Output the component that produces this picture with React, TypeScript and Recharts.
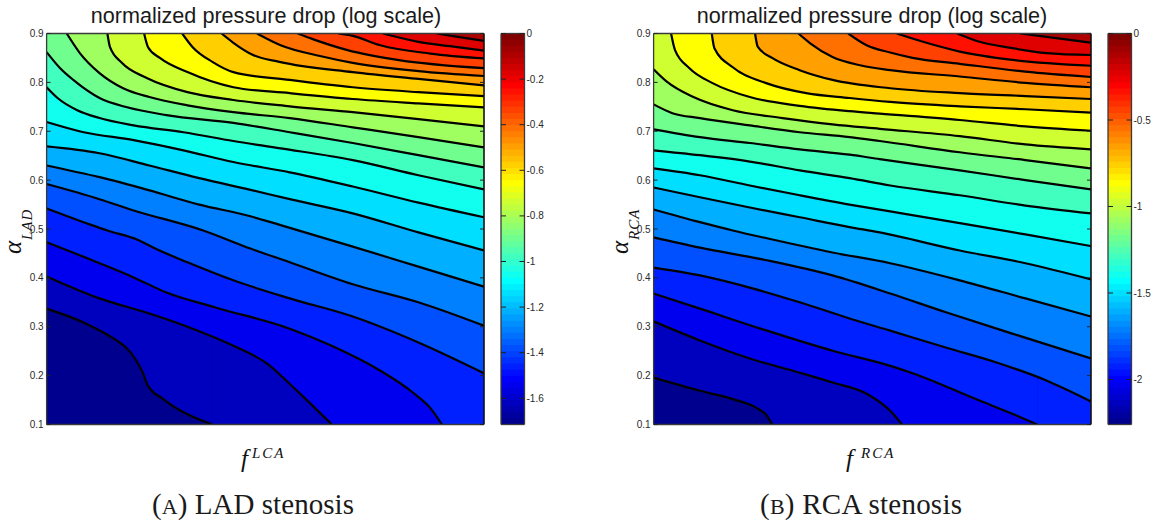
import React from 'react';
import { ComposedChart, Area, Line, XAxis, YAxis } from 'recharts';

type Pt = [number, number];

const fMin = 2 / 3;
const fMax = 1;
const alphaMin = 0.1;
const alphaMax = 0.9;
const fTicks = [0.7, 0.75, 0.8, 0.85, 0.9, 0.95, 1];
const alphaTicks = [0.1, 0.2, 0.3, 0.4, 0.5, 0.6, 0.7, 0.8, 0.9];

// Contour lines of panel A, lowest pressure first: [f, alpha]
const ladContours: Pt[][] = [
  [[fMin, 0.337], [0.697, 0.306], [0.72, 0.272], [0.727, 0.258], [0.735, 0.231], [0.74, 0.206], [0.744, 0.179], [0.755, 0.153], [0.793, 0.1]],
  [[fMin, 0.403], [0.707, 0.358], [0.745, 0.327], [0.776, 0.298], [0.809, 0.261], [0.835, 0.224], [0.852, 0.183], [0.863, 0.155], [0.884, 0.1]],
  [[fMin, 0.473], [0.707, 0.43], [0.733, 0.401], [0.758, 0.37], [0.796, 0.339], [0.852, 0.296], [0.883, 0.262], [0.921, 0.21], [0.946, 0.165], [0.959, 0.134], [0.968, 0.1]],
  [[fMin, 0.542], [0.7, 0.509], [0.713, 0.497], [0.736, 0.478], [0.751, 0.458], [0.774, 0.432], [0.809, 0.395], [0.852, 0.358], [0.9, 0.321], [0.95, 0.268], [1, 0.205]],
  [[fMin, 0.592], [0.707, 0.561], [0.733, 0.538], [0.786, 0.497], [0.822, 0.46], [0.852, 0.432], [0.9, 0.387], [0.95, 0.35], [1, 0.302]],
  [[fMin, 0.63], [0.707, 0.606], [0.745, 0.579], [0.783, 0.55], [0.822, 0.526], [0.845, 0.508], [0.9, 0.464], [0.95, 0.423], [1, 0.382]],
  [[fMin, 0.669], [0.707, 0.655], [0.745, 0.63], [0.783, 0.604], [0.822, 0.58], [0.852, 0.561], [0.9, 0.532], [0.95, 0.493], [1, 0.456]],
  [[fMin, 0.719], [0.695, 0.698], [0.733, 0.682], [0.771, 0.661], [0.809, 0.637], [0.852, 0.616], [0.9, 0.587], [0.95, 0.554], [1, 0.524]],
  [[fMin, 0.79], [0.675, 0.768], [0.69, 0.743], [0.707, 0.727], [0.733, 0.712], [0.771, 0.698], [0.809, 0.68], [0.845, 0.665], [0.9, 0.641], [0.95, 0.61], [1, 0.581]],
  [[fMin, 0.862], [0.677, 0.829], [0.687, 0.805], [0.707, 0.768], [0.728, 0.749], [0.758, 0.733], [0.809, 0.717], [0.852, 0.698], [0.9, 0.676], [0.95, 0.651], [1, 0.626]],
  [[0.682, 0.9], [0.692, 0.86], [0.707, 0.819], [0.725, 0.788], [0.745, 0.77], [0.774, 0.753], [0.809, 0.739], [0.852, 0.727], [0.9, 0.708], [0.95, 0.688], [1, 0.667]],
  [[0.713, 0.9], [0.715, 0.872], [0.724, 0.84], [0.743, 0.809], [0.774, 0.78], [0.809, 0.764], [0.852, 0.751], [0.9, 0.739], [0.95, 0.725], [1, 0.71]],
  [[0.741, 0.9], [0.744, 0.872], [0.753, 0.85], [0.774, 0.821], [0.809, 0.79], [0.852, 0.778], [0.9, 0.766], [0.95, 0.757], [1, 0.749]],
  [[0.77, 0.9], [0.778, 0.872], [0.793, 0.842], [0.809, 0.821], [0.852, 0.805], [0.9, 0.79], [0.95, 0.78], [1, 0.772]],
  [[0.8, 0.9], [0.809, 0.881], [0.824, 0.856], [0.844, 0.842], [0.9, 0.821], [0.95, 0.807], [1, 0.794]],
  [[0.827, 0.9], [0.845, 0.876], [0.875, 0.854], [0.9, 0.84], [0.95, 0.823], [1, 0.813]],
  [[0.858, 0.9], [0.87, 0.888], [0.896, 0.866], [0.934, 0.846], [1, 0.829]],
  [[0.889, 0.9], [0.9, 0.895], [0.921, 0.876], [0.959, 0.859], [1, 0.849]],
  [[0.923, 0.9], [0.95, 0.883], [0.974, 0.874], [1, 0.865]],
  [[0.964, 0.9], [0.98, 0.893], [1, 0.885]],
];

// Contour lines of panel B, lowest pressure first: [f, alpha]
const rcaContours: Pt[][] = [
  [[fMin, 0.196], [0.702, 0.169], [0.727, 0.152], [0.745, 0.134], [0.753, 0.118], [0.757, 0.1]],
  [[fMin, 0.311], [0.702, 0.272], [0.74, 0.235], [0.778, 0.206], [0.803, 0.186], [0.829, 0.163], [0.847, 0.128], [0.856, 0.1]],
  [[fMin, 0.368], [0.702, 0.337], [0.753, 0.292], [0.803, 0.251], [0.847, 0.22], [0.864, 0.205], [0.915, 0.149], [0.94, 0.122], [0.959, 0.1]],
  [[fMin, 0.421], [0.702, 0.405], [0.74, 0.38], [0.778, 0.35], [0.816, 0.317], [0.847, 0.292], [0.89, 0.257], [0.928, 0.227], [0.966, 0.19], [1, 0.147]],
  [[fMin, 0.483], [0.702, 0.462], [0.753, 0.436], [0.803, 0.405], [0.847, 0.368], [0.89, 0.329], [0.94, 0.286], [1, 0.235]],
  [[fMin, 0.54], [0.702, 0.514], [0.727, 0.497], [0.753, 0.481], [0.803, 0.452], [0.847, 0.43], [0.9, 0.395], [0.95, 0.358], [1, 0.321]],
  [[fMin, 0.585], [0.702, 0.565], [0.74, 0.544], [0.778, 0.524], [0.816, 0.504], [0.839, 0.493], [0.9, 0.456], [0.95, 0.43], [1, 0.397]],
  [[fMin, 0.624], [0.702, 0.61], [0.74, 0.589], [0.778, 0.569], [0.816, 0.55], [0.847, 0.536], [0.9, 0.512], [0.95, 0.489], [1, 0.465]],
  [[fMin, 0.661], [0.702, 0.651], [0.74, 0.638], [0.778, 0.62], [0.816, 0.604], [0.847, 0.589], [0.9, 0.569], [0.95, 0.548], [1, 0.532]],
  [[fMin, 0.704], [0.702, 0.688], [0.74, 0.676], [0.778, 0.663], [0.816, 0.652], [0.839, 0.643], [0.9, 0.62], [0.95, 0.6], [1, 0.581]],
  [[fMin, 0.755], [0.681, 0.737], [0.702, 0.727], [0.74, 0.712], [0.778, 0.698], [0.816, 0.688], [0.839, 0.68], [0.9, 0.657], [0.95, 0.641], [1, 0.624]],
  [[fMin, 0.827], [0.677, 0.801], [0.697, 0.77], [0.727, 0.743], [0.765, 0.727], [0.803, 0.714], [0.839, 0.705], [0.9, 0.69], [0.95, 0.673], [1, 0.663]],
  [[0.68, 0.9], [0.683, 0.866], [0.694, 0.829], [0.712, 0.798], [0.74, 0.77], [0.778, 0.752], [0.816, 0.741], [0.839, 0.736], [0.9, 0.723], [0.95, 0.71], [1, 0.701]],
  [[0.711, 0.9], [0.713, 0.87], [0.727, 0.831], [0.753, 0.798], [0.783, 0.778], [0.816, 0.768], [0.847, 0.76], [0.9, 0.751], [0.95, 0.745], [1, 0.738]],
  [[0.744, 0.9], [0.746, 0.873], [0.757, 0.85], [0.778, 0.825], [0.803, 0.805], [0.847, 0.788], [0.9, 0.778], [0.95, 0.772], [1, 0.766]],
  [[0.777, 0.9], [0.786, 0.88], [0.803, 0.852], [0.824, 0.835], [0.847, 0.825], [0.9, 0.812], [0.95, 0.799], [1, 0.79]],
  [[0.815, 0.9], [0.829, 0.876], [0.847, 0.861], [0.864, 0.85], [0.9, 0.838], [0.95, 0.822], [1, 0.811]],
  [[0.852, 0.9], [0.872, 0.883], [0.9, 0.863], [0.94, 0.846], [1, 0.834]],
  [[0.898, 0.9], [0.915, 0.883], [0.94, 0.87], [0.966, 0.86], [1, 0.856]],
  [[0.946, 0.9], [0.975, 0.89], [1, 0.881]],
];

// Flat band colours, lowest band first (one more than the contours)
const bandColors = [
  '#00008f', '#0000bf', '#0000ef', '#0020ff', '#0050ff', '#0080ff', '#00afff',
  '#00dfff', '#10ffef', '#40ffbf', '#70ff8f', '#9fff60', '#cfff30', '#ffff00',
  '#ffcf00', '#ff9f00', '#ff7000', '#ff4000', '#ff1000', '#df0000', '#af0000',
];

// Colour bar table, lowest value first
const jet64 = [
  '#00008f', '#00009f', '#0000af', '#0000bf', '#0000cf', '#0000df', '#0000ef', '#0000ff',
  '#0010ff', '#0020ff', '#0030ff', '#0040ff', '#0050ff', '#0060ff', '#0070ff', '#0080ff',
  '#008fff', '#009fff', '#00afff', '#00bfff', '#00cfff', '#00dfff', '#00efff', '#00ffff',
  '#10ffef', '#20ffdf', '#30ffcf', '#40ffbf', '#50ffaf', '#60ff9f', '#70ff8f', '#80ff80',
  '#8fff70', '#9fff60', '#afff50', '#bfff40', '#cfff30', '#dfff20', '#efff10', '#ffff00',
  '#ffef00', '#ffdf00', '#ffcf00', '#ffbf00', '#ffaf00', '#ff9f00', '#ff8f00', '#ff8000',
  '#ff7000', '#ff6000', '#ff5000', '#ff4000', '#ff3000', '#ff2000', '#ff1000', '#ff0000',
  '#ef0000', '#df0000', '#cf0000', '#bf0000', '#af0000', '#9f0000', '#8f0000', '#800000',
];

const ladBarMin = -1.715;
const ladBarTicks = [-1.6, -1.4, -1.2, -1, -0.8, -0.6, -0.4, -0.2, 0];
const rcaBarMin = -2.26;
const rcaBarTicks = [-2, -1.5, -1, -0.5, 0];

const titleText = 'normalized pressure drop (log scale)';

const FRAME = '#3a3a3a';
const TICK = '#222';
const LABEL = '#2a2a2a';
const SANS = '"Liberation Sans", Arial, sans-serif';
const SERIF = '"Liberation Serif", "DejaVu Serif", serif';
const HEIGHT = 524;
const PLOT_TOP = 33.5;
const PLOT_BOTTOM = 424.5;
const PLOT_W = 437.4;
const LEFT = 46.6;
const RIGHT_PAD = 20;
const BAR_W = 23.5;
const BAR_PAD_L = 10;
const BAR_PAD_R = 40;

const fmt = (v: number) => String(v);

const BottomTick = (p: any) => (
  <g>
    <line x1={p.x} x2={p.x} y1={p.y} y2={p.y - 4} stroke={TICK} strokeWidth={1} />
    <text x={p.x} y={p.y + 15} textAnchor="middle" fontFamily={SANS} fontSize={10} fill={LABEL}>{fmt(p.payload.value)}</text>
  </g>
);
const TopTick = (p: any) => <line x1={p.x} x2={p.x} y1={p.y} y2={p.y + 4} stroke={TICK} strokeWidth={1} />;
const LeftTick = (p: any) => (
  <g>
    <line x1={p.x} x2={p.x + 4} y1={p.y} y2={p.y} stroke={TICK} strokeWidth={1} />
    <text x={p.x - 3} y={p.y + 3.5} textAnchor="end" fontFamily={SANS} fontSize={10} fill={LABEL}>{fmt(p.payload.value)}</text>
  </g>
);
const RightTick = (p: any) => <line x1={p.x} x2={p.x - 4} y1={p.y} y2={p.y} stroke={TICK} strokeWidth={1} />;

const BarRightTick = (p: any) => (
  <g>
    <line x1={p.x} x2={p.x - 5} y1={p.y} y2={p.y} stroke={TICK} strokeWidth={1} />
    <text x={p.x + 2} y={p.y + 3.5} textAnchor="start" fontFamily={SANS} fontSize={10} fill={LABEL}>{fmt(p.payload.value)}</text>
  </g>
);
const BarLeftTick = (p: any) => <line x1={p.x} x2={p.x + 5} y1={p.y} y2={p.y} stroke={TICK} strokeWidth={1} />;

const toLine = (pts: Pt[]) => pts.map(([f, a]) => ({ f, a }));
const toBand = (pts: Pt[]) => pts.map(([f, a]) => ({ f, band: [a, alphaMax] }));

const frameLine = { stroke: FRAME, strokeWidth: 1.3 };
const sharedAxis = { tickLine: false, tickSize: 0, tickMargin: 0, interval: 0 as const, allowDataOverflow: true };

function Contours({ left, contours }: { left: number; contours: Pt[][] }) {
  const width = LEFT + PLOT_W + RIGHT_PAD;
  const full = [{ f: fMin, band: [alphaMin, alphaMax] }, { f: fMax, band: [alphaMin, alphaMax] }];
  return (
    <div style={{ position: 'absolute', left, top: 0, width, height: HEIGHT }}>
      <div style={{ position: 'absolute', left: 0, top: 0 }}>
        <ComposedChart
          width={width}
          height={HEIGHT}
          margin={{ top: PLOT_TOP, right: RIGHT_PAD, bottom: HEIGHT - PLOT_BOTTOM, left: LEFT }}
        >
          <XAxis type="number" dataKey="f" domain={[fMin, fMax]} allowDataOverflow hide />
          <YAxis type="number" domain={[alphaMin, alphaMax]} allowDataOverflow hide />
          <Area data={full} dataKey="band" type="linear" stroke="none" fill={bandColors[0]} fillOpacity={1} isAnimationActive={false} dot={false} activeDot={false} />
          {contours.map((pts, i) => {
            const last = pts[pts.length - 1];
            return (
              <React.Fragment key={i}>
                <Area data={toBand(pts)} dataKey="band" type="monotone" stroke="none" fill={bandColors[i + 1]} fillOpacity={1} isAnimationActive={false} dot={false} activeDot={false} />
                {last[0] < fMax && (
                  <Area data={toBand([[last[0], alphaMin], [fMax, alphaMin]])} dataKey="band" type="linear" stroke="none" fill={bandColors[i + 1]} fillOpacity={1} isAnimationActive={false} dot={false} activeDot={false} />
                )}
              </React.Fragment>
            );
          })}
          {contours.map((pts, i) => (
            <Line key={`l${i}`} data={toLine(pts)} dataKey="a" type="monotone" stroke="#000" strokeWidth={2.2} dot={false} activeDot={false} isAnimationActive={false} />
          ))}
        </ComposedChart>
      </div>
      <div style={{ position: 'absolute', left: 0, top: 0 }}>
        <ComposedChart width={width} height={HEIGHT} margin={{ top: 0, right: 0, bottom: 0, left: 0 }}>
          <XAxis {...sharedAxis} type="number" domain={[fMin, fMax]} ticks={fTicks} height={HEIGHT - PLOT_BOTTOM} tick={BottomTick} axisLine={frameLine} />
          <XAxis {...sharedAxis} type="number" xAxisId="top" orientation="top" domain={[fMin, fMax]} ticks={fTicks} height={PLOT_TOP} tick={TopTick} axisLine={frameLine} />
          <YAxis {...sharedAxis} type="number" domain={[alphaMin, alphaMax]} ticks={alphaTicks} width={LEFT} tick={LeftTick} axisLine={frameLine} />
          <YAxis {...sharedAxis} type="number" yAxisId="right" orientation="right" domain={[alphaMin, alphaMax]} ticks={alphaTicks} width={RIGHT_PAD} tick={RightTick} axisLine={{ stroke: '#111', strokeWidth: 1.6 }} />
        </ComposedChart>
      </div>
    </div>
  );
}

function ColorBar({ left, min, ticks }: { left: number; min: number; ticks: number[] }) {
  const step = -min / jet64.length;
  const width = BAR_PAD_L + BAR_W + BAR_PAD_R;
  return (
    <div style={{ position: 'absolute', left: left - BAR_PAD_L, top: 0, width, height: HEIGHT }}>
      <div style={{ position: 'absolute', left: 0, top: 0 }}>
        <ComposedChart
          width={width}
          height={HEIGHT}
          margin={{ top: PLOT_TOP, right: BAR_PAD_R, bottom: HEIGHT - PLOT_BOTTOM, left: BAR_PAD_L }}
        >
          <XAxis type="number" dataKey="x" domain={[0, 1]} allowDataOverflow hide />
          <YAxis type="number" domain={[min, 0]} allowDataOverflow hide />
          {jet64.map((c, i) => (
            <Area
              key={i}
              data={[{ x: 0, band: [min + i * step, 0] }, { x: 1, band: [min + i * step, 0] }]}
              dataKey="band"
              type="linear"
              stroke="none"
              fill={c}
              fillOpacity={1}
              isAnimationActive={false}
              dot={false}
              activeDot={false}
            />
          ))}
        </ComposedChart>
      </div>
      <div style={{ position: 'absolute', left: 0, top: 0 }}>
        <ComposedChart width={width} height={HEIGHT} margin={{ top: 0, right: 0, bottom: 0, left: 0 }}>
          <XAxis {...sharedAxis} type="number" domain={[0, 1]} ticks={[]} height={HEIGHT - PLOT_BOTTOM} tick={false} axisLine={frameLine} />
          <XAxis {...sharedAxis} type="number" xAxisId="top" orientation="top" domain={[0, 1]} ticks={[]} height={PLOT_TOP} tick={false} axisLine={frameLine} />
          <YAxis {...sharedAxis} type="number" domain={[min, 0]} ticks={ticks} width={BAR_PAD_L} tick={BarLeftTick} axisLine={frameLine} />
          <YAxis {...sharedAxis} type="number" yAxisId="right" orientation="right" domain={[min, 0]} ticks={ticks} width={BAR_PAD_R} tick={BarRightTick} axisLine={frameLine} />
        </ComposedChart>
      </div>
    </div>
  );
}

function Overlay() {
  const math = { fontFamily: SERIF, fontStyle: 'italic' as const };
  const caption = { fontFamily: SERIF, fontSize: 29, fill: '#1a1a1a' };
  return (
    <svg width={1161} height={HEIGHT} style={{ position: 'absolute', left: 0, top: 0, pointerEvents: 'none' }}>
      <text x={266} y={23} textAnchor="middle" fontFamily={SANS} fontSize={21.6} fill="#1a1a1a">{titleText}</text>
      <text x={872} y={23} textAnchor="middle" fontFamily={SANS} fontSize={21.6} fill="#1a1a1a">{titleText}</text>

      <text x={241} y={467} {...math} fontSize={25} fill="#111">f</text>
      <text x={252} y={458} {...math} fontSize={15} letterSpacing={2} fill="#111">LCA</text>
      <text x={846} y={467} {...math} fontSize={25} fill="#111">f</text>
      <text x={861} y={458} {...math} fontSize={15} letterSpacing={2} fill="#111">RCA</text>

      <text transform="translate(21 254) rotate(-90)" {...math} fontSize={25} fill="#111">α</text>
      <text transform="translate(32 240) rotate(-90)" {...math} fontSize={15} letterSpacing={1} fill="#111">LAD</text>
      <text transform="translate(628 254) rotate(-90)" {...math} fontSize={25} fill="#111">α</text>
      <text transform="translate(639 240) rotate(-90)" {...math} fontSize={15} letterSpacing={1} fill="#111">RCA</text>

      <text x={152} y={514} {...caption} textLength={202}>(<tspan fontSize={22}>A</tspan>) LAD stenosis</text>
      <text x={760} y={514} {...caption} textLength={202}>(<tspan fontSize={22}>B</tspan>) RCA stenosis</text>
    </svg>
  );
}

export default function App() {
  return (
    <div style={{ position: 'absolute', left: 0, top: 0, width: 1161, height: HEIGHT, background: '#fff', overflow: 'hidden' }}>
      <Contours left={0} contours={ladContours} />
      <ColorBar left={500.5} min={ladBarMin} ticks={ladBarTicks} />
      <Contours left={607.4} contours={rcaContours} />
      <ColorBar left={1108} min={rcaBarMin} ticks={rcaBarTicks} />
      <Overlay />
    </div>
  );
}
